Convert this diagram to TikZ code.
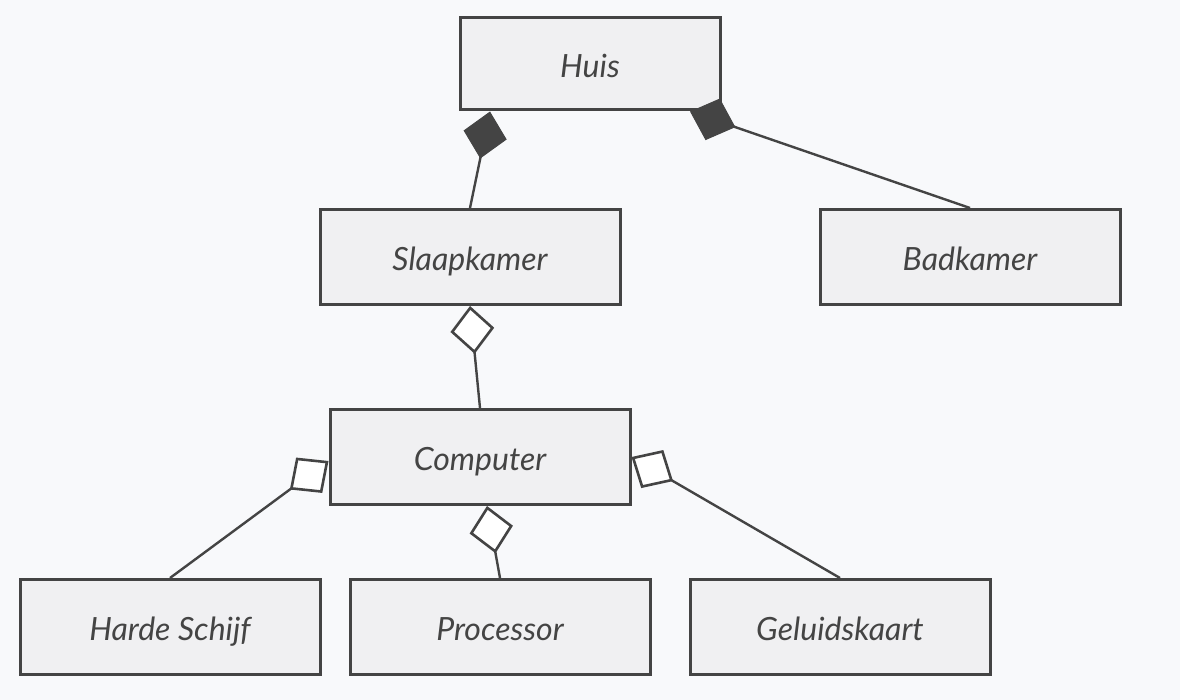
\documentclass[tikz,border=0pt]{standalone}
\usepackage{fontspec}
\setmainfont{Lato}
\usetikzlibrary{arrows.meta}
\definecolor{bg}{HTML}{F8F9FB}
\definecolor{boxfill}{HTML}{F0F0F2}
\definecolor{ink}{HTML}{444444}
\begin{document}
\begin{tikzpicture}[x=1pt,y=-1pt,
  cls/.style={draw=ink, line width=3pt, fill=boxfill, minimum width=300pt,
    minimum height=95pt, inner sep=0pt, text=ink, text height=30pt, text depth=3pt,
    font=\fontsize{32}{38}\selectfont\itshape},
  link/.style={draw=ink, line width=2.4pt},
  comp/.style={link, {Diamond[length=48pt,width=44pt,fill=ink,color=ink,line width=1pt]}-},
  aggr/.style={link, {Diamond[length=48pt,width=44pt,fill=white,color=ink,line width=2.6pt]}-}]
  \path[fill=bg] (0,0) rectangle (1180,700);
  \node[cls, minimum width=260pt, minimum height=92pt] (huis) at (590,64) {Huis};
  \node[cls] (slaap) at (470,257) {Slaapkamer};
  \node[cls] (bad) at (970,257) {Badkamer};
  \node[cls] (comp) at (480,457) {Computer};
  \node[cls] (hd) at (170,627) {Harde Schijf};
  \node[cls] (proc) at (500,627) {Processor};
  \node[cls] (snd) at (840,627) {Geluidskaart};
  \draw[comp] ([xshift=-100pt]huis.south) -- (slaap.north);
  \draw[comp] ([xshift=100pt]huis.south) -- (bad.north);
  \draw[aggr] (slaap.south) -- (comp.north);
  \draw[aggr] ([yshift=-4pt]comp.west) -- (hd.north);
  \draw[aggr] ([xshift=7pt]comp.south) -- (proc.north);
  \draw[aggr] (comp.east) -- (snd.north);
\end{tikzpicture}
\end{document}
